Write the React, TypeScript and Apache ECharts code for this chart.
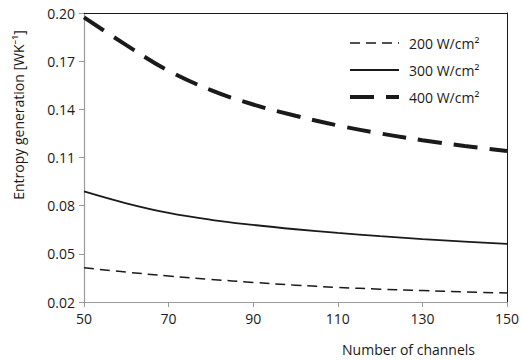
import React, { useEffect, useRef } from "react";
import * as echarts from "echarts";

const channels = [50, 60, 70, 80, 90, 100, 110, 120, 130, 140, 150];
const s200 = [0.0413, 0.0386, 0.0362, 0.0341, 0.0322, 0.0305, 0.0291, 0.0280, 0.0271, 0.0263, 0.0256];
const s300 = [0.0889, 0.0815, 0.0755, 0.0712, 0.0680, 0.0653, 0.0630, 0.0610, 0.0592, 0.0576, 0.0562];
const s400 = [0.1973, 0.18, 0.164, 0.152, 0.143, 0.136, 0.13, 0.125, 0.1208, 0.1172, 0.1141];
const seriesNames = ["200 W/cm²", "300 W/cm²", "400 W/cm²"];
const yTitle = "Entropy generation [WK⁻¹]";
const xTitle = "Number of channels";

const FONT = "'Open Sans', 'Noto Sans', sans-serif";

export default function App() {
  const ref = useRef<HTMLDivElement>(null);
  useEffect(() => {
    document.body.style.margin = "0";
    if (!ref.current) return;
    const chart = echarts.init(ref.current, undefined, { renderer: "svg" });
    const pair = (ys: number[]) => channels.map((x, i) => [x, ys[i]]);
    const grey = "#9a9a9a";
    const ink = "#1a1a1a";
    const styles = [
      { color: ink, width: 1.5, type: [10, 6] as any, cap: "butt" },
      { color: ink, width: 1.8, type: "solid" as any, cap: "butt" },
      { color: ink, width: 4, type: [24, 12] as any, cap: "butt" },
    ];
    const lists = [s200, s300, s400];
    chart.setOption({
      animation: false,
      backgroundColor: "#ffffff",
      textStyle: { fontFamily: FONT },
      grid: { left: 84, right: 12, top: 13, bottom: 59 },
      legend: {
        orient: "vertical",
        left: 343,
        top: 31,
        itemWidth: 49,
        itemHeight: 14,
        itemGap: 13,
        data: seriesNames.map((n, i) => ({ name: n, lineStyle: styles[i] })),
        itemStyle: { color: "transparent", borderColor: "transparent", borderWidth: 0, opacity: 0 },
        textStyle: { fontFamily: FONT, fontSize: 14, color: ink, padding: [0, 0, 0, 5] },
        selectedMode: false,
      },
      xAxis: [
        {
          type: "value",
          min: 50,
          max: 150,
          interval: 20,
          axisLine: { show: true, lineStyle: { color: grey, width: 1.2 } },
          axisTick: { show: true, length: 5, lineStyle: { color: grey } },
          splitLine: { show: false },
          axisLabel: { fontFamily: FONT, fontSize: 14, color: ink, margin: 9 },
        },
        {
          type: "value",
          position: "top",
          min: 50,
          max: 150,
          axisLine: { show: true, onZero: false, lineStyle: { color: ink, width: 1 } },
          axisTick: { show: false },
          axisLabel: { show: false },
          splitLine: { show: false },
        },
      ],
      yAxis: [
        {
          type: "value",
          min: 0.02,
          max: 0.2,
          interval: 0.03,
          axisLine: { show: true, lineStyle: { color: grey, width: 1.2 } },
          axisTick: { show: true, length: 5, lineStyle: { color: grey } },
          splitLine: { show: false },
          axisLabel: {
            fontFamily: FONT,
            fontSize: 14,
            color: ink,
            margin: 9,
            formatter: (v: number) => v.toFixed(2),
          },
        },
        {
          type: "value",
          position: "right",
          min: 0.02,
          max: 0.2,
          axisLine: { show: true, onZero: false, lineStyle: { color: ink, width: 1 } },
          axisTick: { show: false },
          axisLabel: { show: false },
          splitLine: { show: false },
        },
      ],
      graphic: [
        {
          type: "text",
          x: 18,
          y: 115,
          rotation: Math.PI / 2,
          style: {
            text: yTitle,
            fontFamily: FONT,
            fontSize: 14,
            fill: ink,
            align: "center",
            verticalAlign: "middle",
          },
        },
        {
          type: "text",
          x: 475,
          y: 349,
          style: {
            text: xTitle,
            fontFamily: FONT,
            fontSize: 14,
            fill: ink,
            align: "right",
            verticalAlign: "middle",
          },
        },
      ],
      series: seriesNames.map((n, i) => ({
        name: n,
        type: "line",
        data: pair(lists[i]),
        smooth: 0.4,
        symbol: "none",
        lineStyle: styles[i],
        itemStyle: { color: ink },
      })),
    });
    return () => chart.dispose();
  }, []);
  return <div ref={ref} style={{ width: 522, height: 361 }} />;
}
